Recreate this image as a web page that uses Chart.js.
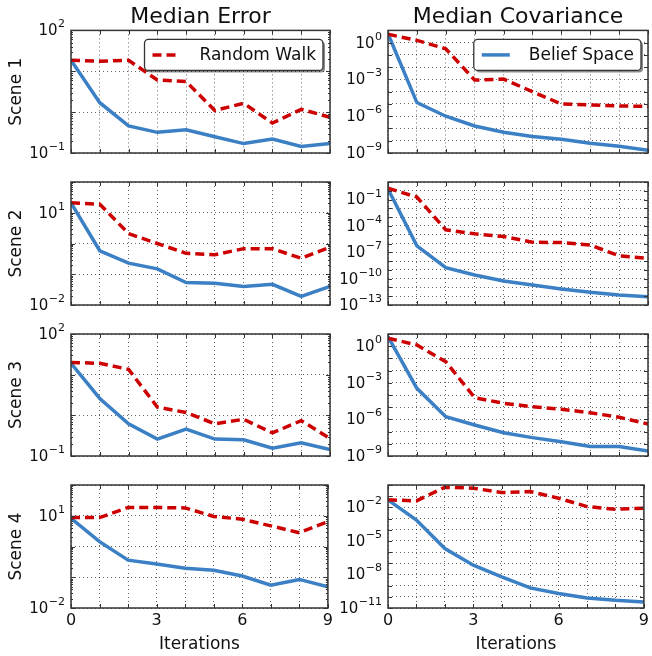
<!DOCTYPE html>
<html>
<head>
<meta charset="utf-8">
<script src="https://cdn.jsdelivr.net/npm/chart.js@4.4.1/dist/chart.umd.min.js"></script>
<style>
  body { margin: 0; background: #fff; }
  #wrap { position: relative; width: 652px; height: 656px; overflow: hidden; }
  #wrap canvas { position: absolute; }
</style>
</head>
<body>
<div id="wrap"></div>
<script>
const iterations = [0, 1, 2, 3, 4, 5, 6, 7, 8, 9];
const xTickLabels = [0, 3, 6, 9];
const scenes = ['Scene 1', 'Scene 2', 'Scene 3', 'Scene 4'];
const columnTitles = ['Median Error', 'Median Covariance'];
const seriesNames = ['Random Walk', 'Belief Space'];

// median error, per scene
const errorRandom1 = [18.6, 17.6, 18.6, 6.1, 5.6, 1.1, 1.65, 0.54, 1.17, 0.75];
const errorBelief1 = [18.6, 1.7, 0.46, 0.32, 0.37, 0.25, 0.17, 0.22, 0.145, 0.17];
const errorRandom2 = [21, 19, 2.1, 1.0, 0.48, 0.43, 0.68, 0.68, 0.33, 0.76];
const errorBelief2 = [21, 0.58, 0.23, 0.15, 0.054, 0.051, 0.04, 0.047, 0.019, 0.04];
const errorRandom3 = [20, 19, 13.5, 1.6, 1.17, 0.62, 0.8, 0.37, 0.74, 0.27];
const errorBelief3 = [19, 2.6, 0.62, 0.26, 0.46, 0.26, 0.25, 0.155, 0.21, 0.145];
const errorRandom4 = [8.7, 8.7, 18.6, 18.6, 18, 9.5, 7.7, 4.7, 2.8, 6.5];
const errorBelief4 = [8.3, 1.44, 0.36, 0.27, 0.195, 0.17, 0.11, 0.055, 0.085, 0.049];

// median covariance, per scene
const covRandom1 = [4.8, 1.55, 0.32, 8.9e-4, 1.07e-3, 1e-4, 1e-5, 8.3e-6, 6.9e-6, 6.3e-6];
const covBelief1 = [5.4, 1.3e-5, 1.0e-6, 1.6e-7, 5.0e-8, 2.2e-8, 1.3e-8, 6.3e-9, 3.5e-9, 1.7e-9];
const covRandom2 = [2.0, 0.19, 3.6e-5, 1.26e-5, 6.3e-6, 1.4e-6, 1.26e-6, 6.9e-7, 3.9e-8, 2.1e-8];
const covBelief2 = [1.6, 5.4e-7, 1.8e-9, 2.6e-10, 5.5e-11, 1.9e-11, 6.8e-12, 2.8e-12, 1.4e-12, 8.9e-13];
const covRandom3 = [4.5, 1.26, 0.054, 6.0e-5, 2.1e-5, 1.1e-5, 6.8e-6, 3.5e-6, 1.5e-6, 4.2e-7];
const covBelief3 = [6.0, 3.5e-4, 1.66e-6, 3.5e-7, 8.1e-8, 3.2e-8, 1.5e-8, 5.9e-9, 5.9e-9, 2.6e-9];
const covRandom4 = [0.047, 0.038, 0.63, 0.52, 0.21, 0.26, 0.066, 0.0117, 0.0068, 0.0083];
const covBelief4 = [0.047, 7.4e-4, 2.1e-6, 6.8e-8, 6.0e-9, 6.3e-10, 1.95e-10, 7.9e-11, 4.9e-11, 3.5e-11];

// y ranges (powers of ten) and labelled powers
const errorRanges = [[-1, 2], [-2, 2], [-1, 2], [-2, 2]];
const covRanges = [[-9, 1], [-13, 1], [-9, 1], [-11, 0]];
const errorTickExps = [[2, -1], [1, -2], [2, -1], [1, -2]];
const covTickExps = [[0, -3, -6, -9], [-1, -4, -7, -10, -13], [0, -3, -6, -9], [-2, -5, -8, -11]];

const randomCols = [[errorRandom1, errorRandom2, errorRandom3, errorRandom4], [covRandom1, covRandom2, covRandom3, covRandom4]];
const beliefCols = [[errorBelief1, errorBelief2, errorBelief3, errorBelief4], [covBelief1, covBelief2, covBelief3, covBelief4]];
const rangeCols = [errorRanges, covRanges];
const tickCols = [errorTickExps, covTickExps];

const RED = '#cc0000';
const BLUE = '#3b7fc4';
const FONT = 'DejaVu Sans';
Chart.defaults.font.family = FONT;
Chart.defaults.color = '#111';

const colGeom = [
  { left: 0, width: 336, axisW: 71, padRight: 6 },
  { left: 322, width: 330, axisW: 66, padRight: 4 }
];
const rowGeom = [
  { top: 0, height: 158, padTop: 0 },
  { top: 170, height: 140, padTop: 12 },
  { top: 322, height: 139, padTop: 12 },
  { top: 473, height: 183, padTop: 12 }
];

function roundRect(ctx, x, y, w, h, r) {
  ctx.beginPath();
  ctx.moveTo(x + r, y);
  ctx.arcTo(x + w, y, x + w, y + h, r);
  ctx.arcTo(x + w, y + h, x, y + h, r);
  ctx.arcTo(x, y + h, x, y, r);
  ctx.arcTo(x, y, x + w, y, r);
  ctx.closePath();
}

function makeDeco(cfg) {
  return {
    id: 'panelDeco',
    afterDraw(chart) {
      const { ctx, chartArea: a } = chart;
      const ys = chart.scales.y, xs = chart.scales.x;
      ctx.save();
      // frame
      ctx.strokeStyle = '#333';
      ctx.lineWidth = 1.5;
      ctx.setLineDash([]);
      ctx.strokeRect(a.left, a.top, a.right - a.left, a.bottom - a.top);
      // inner ticks
      ctx.lineWidth = 1;
      ctx.beginPath();
      iterations.forEach(v => {
        const px = Math.round(xs.getPixelForValue(v)) + 0.5;
        ctx.moveTo(px, a.bottom); ctx.lineTo(px, a.bottom - 4);
        ctx.moveTo(px, a.top); ctx.lineTo(px, a.top + 4);
      });
      const [lo, hi] = cfg.range;
      for (let e = lo; e <= hi; e++) {
        const py = Math.round(ys.getPixelForValue(10 ** e)) + 0.5;
        ctx.moveTo(a.left, py); ctx.lineTo(a.left + 4, py);
        ctx.moveTo(a.right, py); ctx.lineTo(a.right - 4, py);
        if (hi - lo <= 6 && e < hi) {
          for (let m = 2; m < 10; m++) {
            const pm = Math.round(ys.getPixelForValue(m * 10 ** e)) + 0.5;
            ctx.moveTo(a.left, pm); ctx.lineTo(a.left + 2, pm);
            ctx.moveTo(a.right, pm); ctx.lineTo(a.right - 2, pm);
          }
        }
      }
      ctx.stroke();
      // y tick labels 10^n
      ctx.fillStyle = '#111';
      cfg.tickExps.forEach(e => {
        const py = ys.getPixelForValue(10 ** e);
        const sup = String(e).replace('-', '\u2212');
        ctx.font = '11px "' + FONT + '"';
        const sw = ctx.measureText(sup).width;
        ctx.textAlign = 'left';
        ctx.textBaseline = 'alphabetic';
        const right = a.left - 6;
        ctx.fillText(sup, right - sw, py - 3);
        ctx.font = '15px "' + FONT + '"';
        ctx.textAlign = 'right';
        ctx.textBaseline = 'middle';
        ctx.fillText('10', right - sw - 0.5, py + 1);
      });
      // legend box
      if (cfg.legend != null) {
        const ds = chart.data.datasets[cfg.legend];
        ctx.font = '17px "' + FONT + '"';
        const tw = ctx.measureText(ds.label).width;
        const w = 55 + tw + 7, h = 31;
        const x = a.right - 7 - w, y = a.top + 9;
        ctx.fillStyle = 'rgba(0,0,0,0.45)';
        roundRect(ctx, x + 2, y + 2, w, h, 4);
        ctx.fill();
        ctx.fillStyle = '#fff';
        roundRect(ctx, x, y, w, h, 4);
        ctx.fill();
        ctx.strokeStyle = '#333';
        ctx.lineWidth = 1.3;
        ctx.stroke();
        ctx.beginPath();
        ctx.strokeStyle = ds.borderColor;
        ctx.lineWidth = ds.borderWidth;
        ctx.setLineDash(ds.borderDash || []);
        ctx.moveTo(x + 8, y + h / 2);
        ctx.lineTo(x + 36, y + h / 2);
        ctx.stroke();
        ctx.setLineDash([]);
        ctx.fillStyle = '#111';
        ctx.textAlign = 'left';
        ctx.textBaseline = 'middle';
        ctx.fillText(ds.label, x + 55, y + h / 2 + 1);
      }
      ctx.restore();
    }
  };
}

const wrap = document.getElementById('wrap');

for (let col = 0; col < 2; col++) {
  for (let row = 0; row < 4; row++) {
    const cg = colGeom[col], rg = rowGeom[row];
    const canvas = document.createElement('canvas');
    canvas.width = cg.width;
    canvas.height = rg.height;
    canvas.style.left = cg.left + 'px';
    canvas.style.top = rg.top + 'px';
    wrap.appendChild(canvas);

    const range = rangeCols[col][row];
    const decades = [];
    for (let e = range[0]; e <= range[1]; e++) decades.push(e);
    const toPoints = vals => iterations.map((it, i) => ({ x: it, y: vals[i] }));
    const gridOpts = { color: 'rgba(0,0,0,0.6)', lineWidth: 1, drawTicks: false };
    const isBottom = row === 3;

    new Chart(canvas, {
      type: 'line',
      data: {
        datasets: [
          { label: seriesNames[0], data: toPoints(randomCols[col][row]), borderColor: RED, borderWidth: 3.5,
            borderDash: [9, 5], pointRadius: 0, fill: false, tension: 0 },
          { label: seriesNames[1], data: toPoints(beliefCols[col][row]), borderColor: BLUE, borderWidth: 3.5,
            pointRadius: 0, fill: false, tension: 0 }
        ]
      },
      options: {
        responsive: false,
        animation: false,
        events: [],
        layout: { padding: { top: rg.padTop, right: cg.padRight, bottom: isBottom ? 0 : 5, left: 0 } },
        plugins: {
          legend: { display: false },
          tooltip: { enabled: false },
          title: {
            display: row === 0, text: columnTitles[col], fullSize: false,
            font: { size: 22, weight: 'normal' }, color: '#111', padding: { top: 4, bottom: 0 }
          }
        },
        scales: {
          x: {
            type: 'linear', min: 0, max: 9,
            grid: gridOpts,
            border: { display: false, dash: [1, 3] },
            ticks: {
              display: isBottom, stepSize: 1, autoSkip: false, maxRotation: 0, padding: 3,
              font: { size: 16 }, color: '#111',
              callback: v => xTickLabels.includes(v) ? String(v) : ''
            },
            title: { display: isBottom, text: 'Iterations', font: { size: 17 }, color: '#111', padding: { top: 0, bottom: 1 } },
            afterFit: s => { s.height = isBottom ? 48 : 0; }
          },
          y: {
            type: 'logarithmic', min: 10 ** range[0], max: 10 ** range[1],
            afterBuildTicks: s => { s.ticks = decades.map(e => ({ value: 10 ** e })); },
            grid: gridOpts,
            border: { display: false, dash: [1, 3] },
            ticks: { display: false },
            title: { display: col === 0, text: scenes[row], font: { size: 17 }, color: '#111', padding: { top: 6, bottom: 0 } },
            afterFit: s => { s.width = cg.axisW; }
          }
        }
      },
      plugins: [makeDeco({ range: range, tickExps: tickCols[col][row], legend: row === 0 ? (col === 0 ? 0 : 1) : null })]
    });
  }
}
</script>
</body>
</html>
